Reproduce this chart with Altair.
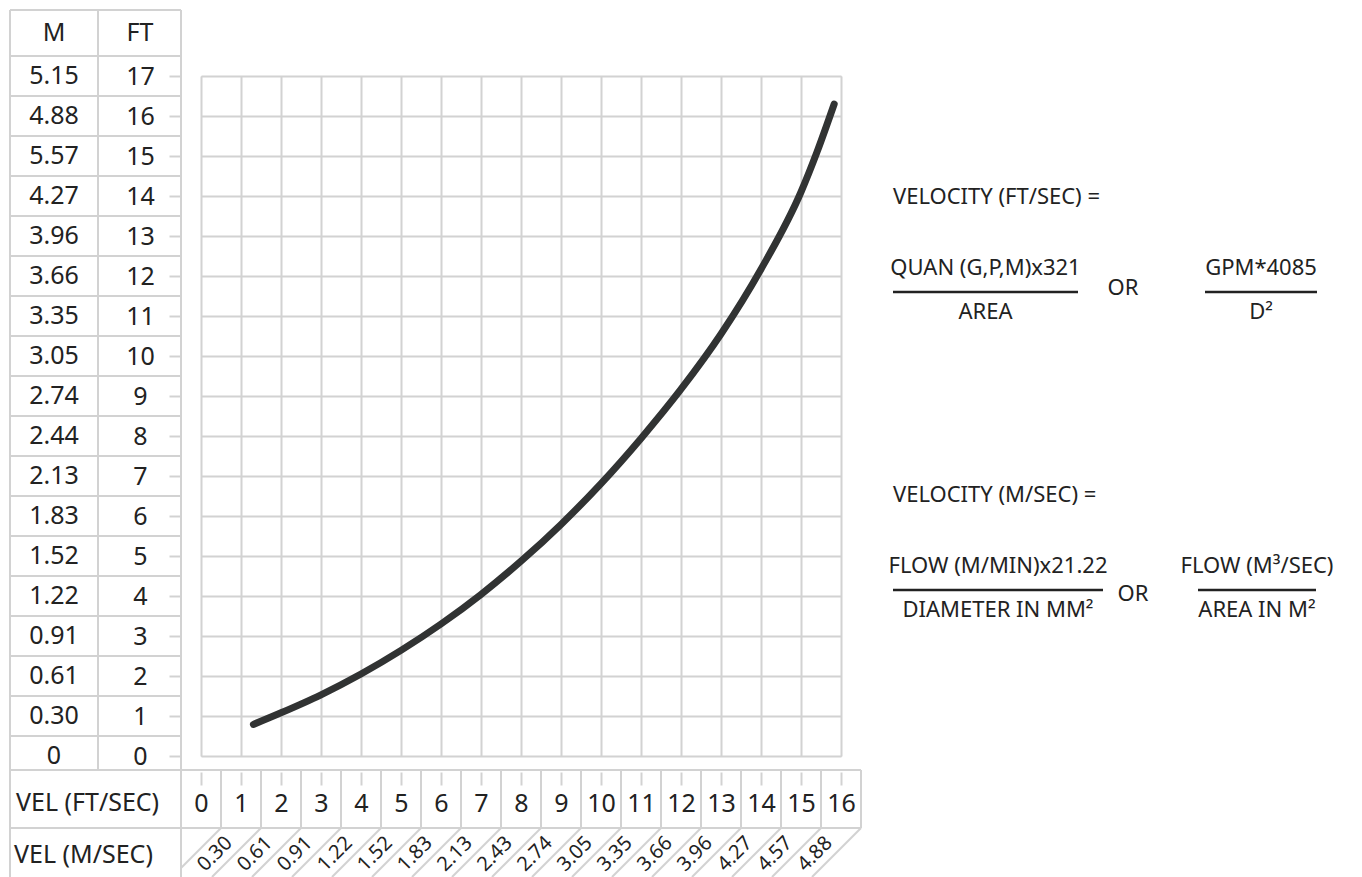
import altair as alt
import pandas as pd

# ---------------- data ----------------
FT_TICKS = list(range(0, 18))                      # head rows (FT)
M_LABELS = ["0", "0.30", "0.61", "0.91", "1.22", "1.52", "1.83", "2.13", "2.44",
            "2.74", "3.05", "3.35", "3.66", "3.96", "4.27", "5.57", "4.88", "5.15"]
VEL_FT = list(range(0, 17))                         # velocity columns (FT/SEC)
VEL_M_VALUES = list(range(1, 17))
VEL_M_LABELS = ["0.30", "0.61", "0.91", "1.22", "1.52", "1.83", "2.13", "2.43",
                "2.74", "3.05", "3.35", "3.66", "3.96", "4.27", "4.57", "4.88"]

CURVE_V = [1.31, 2, 3, 4, 5, 6, 7, 8, 9, 10, 11, 12, 13, 14, 15, 15.4, 15.83]
CURVE_H = [0.79, 1.08, 1.53, 2.05, 2.64, 3.3, 4.04, 4.87, 5.79, 6.81, 7.94, 9.17,
           10.55, 12.17, 14.1, 15.1, 16.3]

LEFT_TEXT = ["VEL (FT/SEC)", "VEL (M/SEC)", "VELOCITY (FT/SEC) =", "VELOCITY (M/SEC) ="]
CENTER_TEXT = ["M", "FT", "QUAN (G,P,M)x321", "AREA", "OR", "GPM*4085", "D²",
               "FLOW (M/MIN)x21.22", "DIAMETER IN MM²", "OR", "FLOW (M³/SEC)", "AREA IN M²"]

# ---------------- layout helpers (page pixels -> chart units) ----------------
X0, Y0, U = 201, 756, 40.0
def fx(px):
    return (px - X0) / U
def fy(py):
    return (Y0 - py) / U

GRID = "#d2d2d2"
INK = "#222222"
FONT = "Noto Sans"

xs = alt.Scale(domain=[0, 16], nice=False, zero=False)
ys = alt.Scale(domain=[0, 17], nice=False, zero=False)

# table borders
rules = []
for k in FT_TICKS:
    rules.append((fx(10), k + 0.5, fx(181), k + 0.5))
rules.append((fx(10), fy(10), fx(181), fy(10)))
rules.append((fx(10), fy(10), fx(10), fy(877)))
rules.append((fx(98), fy(10), fx(98), fy(770)))
rules.append((fx(181), fy(10), fx(181), fy(877)))
rules.append((fx(10), fy(770), fx(861), fy(770)))
rules.append((fx(10), fy(828), fx(861), fy(828)))
for v in VEL_FT + [17]:
    rules.append((v - 0.5, fy(770), v - 0.5, fy(828)))
for v in VEL_FT:
    top_x = v + 0.5
    drop = 49 / U
    bx = top_x - drop
    by = fy(877)
    if bx < -0.5:
        bx = -0.5
        by = fy(828) - (top_x + 0.5)
    rules.append((top_x, fy(828), bx, by))
rules_df = pd.DataFrame(rules, columns=["x", "y", "x2", "y2"])

bars = [(893, 1078, 292), (1205, 1317, 292), (893, 1103, 590), (1198, 1316, 590)]
bars_df = pd.DataFrame([(fx(a), fy(c), fx(b), fy(c)) for a, b, c in bars],
                       columns=["x", "y", "x2", "y2"])

left_pos = [(16, 803, 25), (14, 855, 25), (893, 197, 22), (893, 495, 22)]
left_df = pd.DataFrame({"t": LEFT_TEXT,
                        "x": [fx(p[0]) for p in left_pos],
                        "y": [fy(p[1]) for p in left_pos],
                        "s": [p[2] for p in left_pos]})
center_pos = [(54, 33, 25), (140, 33, 25), (985.5, 268, 22), (985.5, 312, 22),
              (1123, 288, 22), (1261, 268, 22), (1261, 312, 22), (998, 566, 22),
              (998, 610, 22), (1133, 594, 22), (1257, 566, 22), (1257, 610, 22)]
center_df = pd.DataFrame({"t": CENTER_TEXT,
                          "x": [fx(p[0]) for p in center_pos],
                          "y": [fy(p[1]) for p in center_pos],
                          "s": [p[2] for p in center_pos]})

curve_df = pd.DataFrame({"v": CURVE_V, "h": CURVE_H})
m_df = pd.DataFrame({"ft": FT_TICKS, "m": M_LABELS})
vm_df = pd.DataFrame({"v": VEL_M_VALUES, "lab": VEL_M_LABELS})
vm_df["vx"] = vm_df["v"] - 26 / U

x_axis = alt.Axis(
    values=VEL_FT, format="d", title=None, orient="bottom", offset=16,
    grid=True, gridColor=GRID, gridWidth=2, domain=False,
    ticks=True, tickSize=13, tickColor=GRID, tickWidth=2,
    labelFontSize=25, labelFont=FONT, labelColor=INK, labelPadding=18,
    labelBaseline="middle", labelAlign="center", labelFlush=False,
    labelOverlap=False)
y_axis = alt.Axis(
    values=FT_TICKS, format="d", title=None, orient="left", offset=20,
    grid=True, gridColor=GRID, gridWidth=2, domain=False,
    ticks=True, tickSize=12, tickColor=GRID, tickWidth=2,
    labelFontSize=25, labelFont=FONT, labelColor=INK, labelPadding=29,
    labelBaseline="middle", labelAlign="center", labelFlush=False,
    labelOverlap=False)

# ---------------- layers ----------------
curve_layer = alt.Chart(curve_df).mark_line(
    color="#313333", strokeWidth=7, strokeCap="round", interpolate="monotone"
).encode(
    x=alt.X("v:Q", scale=xs, axis=x_axis),
    y=alt.Y("h:Q", scale=ys, axis=y_axis),
)

border_layer = alt.Chart(rules_df).mark_rule(color=GRID, strokeWidth=2).encode(
    x=alt.X("x:Q", scale=xs, axis=x_axis), y=alt.Y("y:Q", scale=ys, axis=y_axis),
    x2="x2:Q", y2="y2:Q")

bar_layer = alt.Chart(bars_df).mark_rule(color=INK, strokeWidth=2.5).encode(
    x=alt.X("x:Q", scale=xs, axis=x_axis), y=alt.Y("y:Q", scale=ys, axis=y_axis),
    x2="x2:Q", y2="y2:Q")

left_text = alt.Chart(left_df).mark_text(align="left", baseline="middle", font=FONT,
                                         color=INK).encode(
    x=alt.X("x:Q", scale=xs, axis=x_axis), y=alt.Y("y:Q", scale=ys, axis=y_axis),
    text="t:N", size=alt.Size("s:Q", scale=None, legend=None))

center_text = alt.Chart(center_df).mark_text(align="center", baseline="middle",
                                             font=FONT, color=INK).encode(
    x=alt.X("x:Q", scale=xs, axis=x_axis), y=alt.Y("y:Q", scale=ys, axis=y_axis),
    text="t:N", size=alt.Size("s:Q", scale=None, legend=None))

m_text = alt.Chart(m_df).mark_text(align="center", baseline="middle", font=FONT,
                                   fontSize=25, color=INK).encode(
    x=alt.value(-147), y=alt.Y("ft:Q", scale=ys, axis=y_axis), text="m:N")

vm_text = alt.Chart(vm_df).mark_text(align="center", baseline="middle", font=FONT,
                                     fontSize=20, color=INK, angle=315).encode(
    x=alt.X("vx:Q", scale=xs, axis=x_axis), y=alt.value(778), text="lab:N")

chart = alt.layer(
    curve_layer, border_layer, bar_layer, left_text, center_text, m_text, vm_text
).properties(
    width=640, height=680,
    autosize=alt.AutoSizeParams(type="none"),
    padding={"left": 193, "top": 68, "right": 513, "bottom": 121},
).configure_view(strokeWidth=0).configure(font=FONT)

chart.save("out.html", embed_options={"renderer": "svg", "actions": False})
